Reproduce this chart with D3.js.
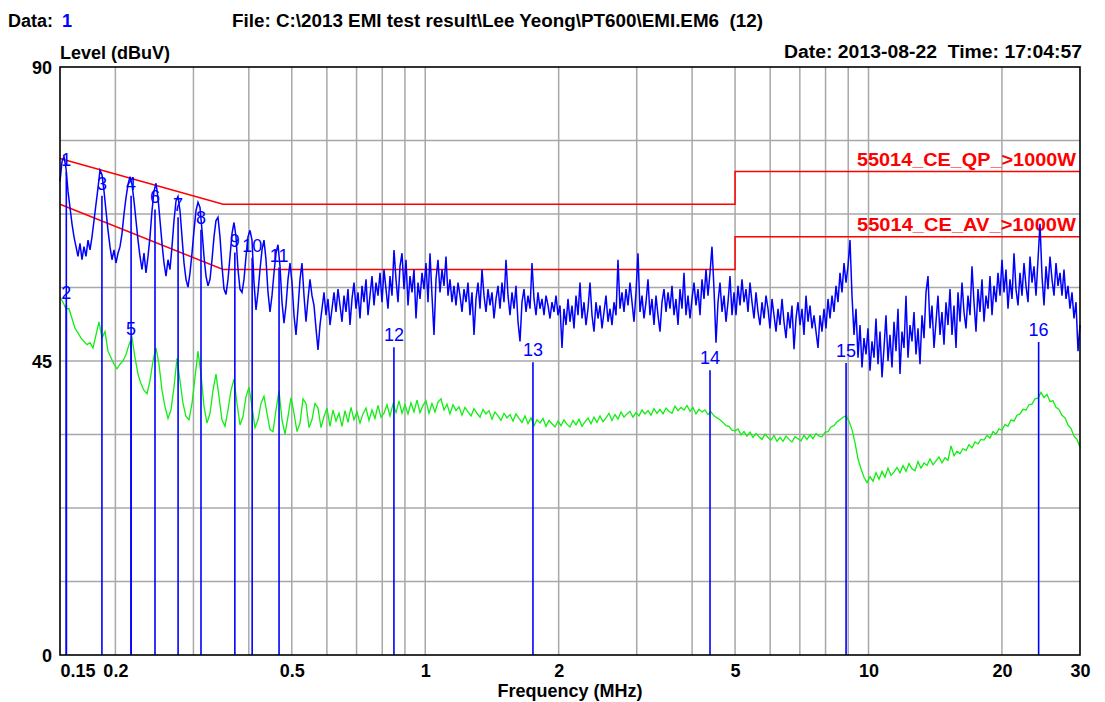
<!DOCTYPE html>
<html>
<head>
<meta charset="utf-8">
<script src="https://cdn.jsdelivr.net/npm/d3@7"></script>
<style>
  body { margin: 0; background: #fff; }
  svg text { font-family: "Liberation Sans", Arial, sans-serif; white-space: pre; }
</style>
</head>
<body>
<svg id="emi-chart" width="1105" height="702"></svg>
<script>
// sweep range of the receiver (MHz)
const sweepStart = 0.15;
const sweepStop = 30;

// QP (peak) trace, dBuV, one value per sweep step
const qpTrace = [
  72.5, 75.5, 76.3, 74.5, 71.0, 68.5, 66.0, 64.0, 62.5, 61.0,
  63.0, 60.5, 62.5, 61.0, 63.5, 62.0, 64.0, 66.5, 69.0, 71.5,
  74.2, 73.5, 71.0, 68.0, 65.0, 62.5, 60.5, 62.0, 60.0, 61.5,
  62.5, 64.5, 67.5, 70.0, 72.0, 73.2, 72.0, 69.5, 66.5, 63.5,
  61.0, 59.0, 61.5, 58.5, 61.0, 64.0, 68.0, 71.0, 72.2, 70.0,
  66.5, 63.0, 60.0, 58.0, 60.5, 59.0, 62.5, 66.5, 69.5, 70.2,
  68.0, 64.0, 60.0, 57.5, 56.3, 58.5, 61.5, 65.0, 68.0, 69.3,
  68.5, 65.0, 61.0, 58.0, 56.5, 57.5, 60.5, 64.0, 66.5, 67.0,
  64.0, 59.5, 56.0, 55.2, 57.5, 61.0, 64.5, 66.2, 64.0, 59.0,
  56.0, 55.5, 57.5, 61.0, 64.0, 65.0, 63.5, 57.0, 52.8, 55.5,
  59.0, 62.0, 63.5, 60.5, 55.5, 52.5, 55.0, 58.5, 61.5, 62.8,
  59.5, 54.0, 50.8, 53.5, 57.5, 60.0, 57.0, 52.0, 49.0, 53.0,
  57.5, 60.0, 55.0, 51.0, 54.5, 57.5, 55.0, 53.5, 50.0, 46.7,
  50.5, 53.0, 55.5, 52.0, 54.5, 50.5, 53.0, 55.5, 52.5, 56.0,
  53.5,
  51.0, 55.0, 52.5, 56.0, 50.5, 54.5, 57.0, 53.0, 55.5, 51.5,
  56.5, 54.0, 57.5, 52.0, 55.0, 58.0, 53.5, 57.0, 55.0, 58.5,
  54.0, 59.0, 56.0, 53.0, 58.0, 55.0, 62.0, 57.5, 54.0, 59.5,
  61.5, 56.0, 60.5, 53.5, 58.0, 55.5, 59.0, 51.5, 57.0, 54.5,
  58.5, 56.0, 60.0, 54.0, 61.5, 55.0, 49.0, 57.5, 60.5, 55.5,
  59.0, 56.5, 61.0, 55.0, 57.5, 54.0, 56.5, 53.5, 57.0, 55.0,
  52.5, 56.0, 54.0, 57.0, 52.0, 55.5, 49.0, 54.5, 57.0, 53.0,
  59.0, 55.0, 52.5, 56.0, 53.5, 55.5, 51.5, 54.5, 56.5, 53.0,
  57.0, 54.0, 60.5, 55.0, 52.0, 55.5, 53.0, 56.5, 51.0, 48.0,
  54.0, 56.0, 52.5, 55.0, 53.0, 60.0, 54.5, 52.0, 55.5, 53.0,
  54.5, 52.0, 55.0, 53.5, 51.5, 54.0, 52.5, 55.0, 52.0, 53.5,
  47.0, 53.0, 50.5, 54.5, 51.0, 53.5, 50.0, 55.0, 52.0, 57.0,
  51.5, 54.0, 50.5, 53.0, 57.0, 52.0, 49.5, 54.0, 51.5, 53.5,
  50.0, 52.5, 55.0, 51.0, 53.0, 50.5, 54.0, 52.0, 60.5, 53.0,
  55.5, 52.5, 56.0, 53.5, 57.0, 54.0, 51.0, 55.5, 61.5, 52.5,
  55.0, 51.5, 54.0, 57.5, 52.0, 54.5, 50.5, 55.0, 52.0, 49.5,
  54.0, 56.0, 52.5, 55.5, 53.0, 56.5, 52.0, 54.5, 50.5, 56.0,
  53.0, 58.5, 52.0, 55.0, 51.5, 54.5, 57.0, 53.5, 56.0, 52.0,
  57.5, 54.5, 59.0, 55.0, 58.5, 62.5, 56.0, 47.8, 54.0, 57.0,
  52.5, 55.0, 51.0, 54.0, 58.0, 52.0, 55.5, 52.0, 56.5, 53.5,
  57.5, 54.0, 56.0, 52.5, 57.0, 54.0, 51.5, 55.5, 52.5, 50.5,
  54.0, 51.5, 55.0, 53.0, 50.0, 54.5, 52.0, 49.5, 53.0, 50.5,
  54.5, 51.0, 48.5, 52.5, 50.0, 53.5, 46.8, 51.5, 54.0, 50.5,
  53.0, 49.0, 55.0, 51.0, 53.5, 50.0, 52.0, 49.5, 47.0, 52.0,
  49.5, 53.0, 50.0, 54.5, 51.5, 55.0, 52.5, 56.5, 54.0, 58.5,
  55.5, 60.0, 57.0, 59.5, 63.5, 55.0, 49.0, 53.0, 45.5, 50.5,
  44.0, 48.5, 46.0, 50.0, 43.5, 48.0, 45.5, 51.5, 44.5, 49.5,
  42.5, 47.0, 52.0, 45.0, 49.0, 44.0, 51.0, 46.5, 53.0, 43.0,
  49.5, 47.0, 55.0, 45.5, 50.5, 48.0, 52.5, 46.0, 50.0, 44.5,
  52.0, 48.5, 55.5, 58.0, 50.0, 53.5, 47.0, 51.0, 55.0, 49.0,
  52.5, 47.5, 54.0, 50.5, 56.0, 49.0, 53.5, 47.0, 55.5, 51.0,
  57.0, 52.5, 50.0, 55.0, 52.0, 59.5, 54.0, 49.5, 56.0, 52.5,
  57.5, 51.0, 55.0, 53.0, 58.0, 52.0, 56.5, 54.0, 58.5, 55.0,
  60.5, 55.5, 59.0, 53.0, 57.5, 54.5, 61.5, 56.0, 53.5, 58.5,
  55.0, 60.0, 56.5, 54.0, 61.0, 57.0, 59.5, 55.0, 60.5, 66.0,
  58.0, 53.5, 59.5, 56.0, 61.0, 57.5, 55.0, 60.0, 56.5, 58.5,
  55.0, 59.0, 54.5, 56.5, 53.0, 55.5, 51.5, 54.0, 46.5, 50.5
];

// AV trace, dBuV
const avTrace = [
  54.8, 54.0, 53.0, 53.0, 51.5, 50.0, 49.3, 48.5, 48.0, 47.5,
  47.8, 47.0, 49.0, 51.0, 48.5, 49.5, 46.5, 45.5, 44.5, 43.8,
  44.5, 45.0, 46.0, 47.5, 48.6, 45.5, 43.0, 41.5, 40.5, 40.0,
  42.0, 45.0, 47.0, 44.5, 40.5, 38.0, 36.2, 37.5, 41.0, 45.4,
  42.0, 38.5, 36.5, 36.0, 38.5, 42.5, 46.5, 43.0, 38.0, 35.5,
  37.0, 40.5, 43.0, 39.5, 36.0, 35.0, 37.5, 40.5, 42.2, 38.5,
  35.2, 36.5, 39.5, 41.0, 38.0, 34.8, 36.0, 38.5, 39.6, 37.0,
  34.5, 34.2, 37.5, 40.4, 36.0, 33.8, 36.5, 39.4, 37.0, 34.2,
  35.5, 39.2, 38.5, 34.8, 36.0, 38.5, 37.8, 34.8, 36.5, 37.8,
  35.0, 37.5, 35.8, 37.0, 35.0, 37.4, 35.6, 37.9, 36.0, 37.2,
  35.5, 36.9, 37.8, 35.9, 37.5, 36.2, 38.2, 36.4, 37.0, 38.3,
  36.6, 38.4, 37.1, 38.9, 37.0, 38.3, 36.9, 38.6, 37.2, 39.0,
  37.1, 38.2, 38.9, 37.0, 38.5, 37.2, 38.7, 39.2, 37.5, 38.4,
  36.9, 38.3, 37.4, 38.0, 36.7, 37.9, 37.2, 36.6, 37.7, 37.0,
  36.4, 37.6, 36.9, 37.4, 36.1, 37.2, 36.6, 35.9, 37.0, 36.3,
  36.8, 35.8, 36.9, 36.2, 35.6, 36.6, 35.4, 36.3, 35.1, 36.0,
  35.5, 36.2, 35.0, 35.9, 35.4, 34.9, 35.8, 35.1, 36.0, 35.3,
  34.9, 35.9, 35.2, 36.1, 35.0, 35.7, 36.3, 35.4, 36.4, 35.6,
  36.6, 35.7, 36.3, 37.0, 35.9, 36.8, 36.1, 37.2, 36.4, 36.9,
  37.3, 36.4, 37.1, 36.6, 37.5, 36.9, 37.4, 36.7, 37.7, 37.0,
  37.6, 36.9, 37.8, 37.3, 37.0, 38.1, 37.4, 37.9, 37.5, 38.2,
  37.3, 37.9, 36.9, 37.6, 37.2, 37.5, 36.8, 37.2, 36.6, 36.3,
  36.0, 35.6, 35.1, 35.0, 34.4, 34.3, 34.6, 33.7, 34.2, 33.5,
  34.1, 33.3, 33.9, 33.4, 33.0, 33.8, 33.3, 32.9, 33.6, 32.7,
  33.3, 32.7, 33.5, 33.0, 32.6, 33.4, 33.1, 32.8, 33.6, 33.0,
  33.7, 33.1, 33.9, 33.5, 33.4, 34.1, 34.2, 34.9, 35.1, 35.7,
  36.0, 36.4, 36.6, 35.8, 34.5, 32.5, 30.0, 28.5, 27.2, 26.4,
  27.3, 26.6, 27.9, 26.9, 28.1, 27.2, 28.6, 27.5, 28.0, 28.7,
  27.9, 29.0, 28.1, 29.3, 28.5, 28.2, 29.6, 28.6, 29.4, 29.0,
  30.0, 29.1, 29.7, 30.3, 29.4, 30.2, 29.8, 32.0, 30.5, 31.2,
  30.8, 31.6, 31.3, 32.2, 31.7, 32.6, 32.3, 33.0, 32.9, 33.6,
  33.2, 34.2, 33.8, 34.6, 34.4, 35.3, 35.0, 36.0, 35.8, 36.7,
  36.9, 37.6, 37.5, 38.3, 38.4, 39.2, 39.3, 40.2, 39.4, 39.9,
  38.8, 38.9, 37.9, 37.6, 36.7, 36.3, 35.2, 34.7, 33.5, 33.0,
  31.8
];

// EN 55014 limits (>1000W), [MHz, dBuV]
const qpLimit = [[0.15, 76], [0.35, 69], [5, 69], [5, 74], [30, 74]];
const avLimit = [[0.15, 69], [0.35, 59], [5, 59], [5, 64], [30, 64]];
const limitNames = ["55014_CE_QP_>1000W", "55014_CE_AV_>1000W"];

// markers
const markerIds = [1, 2, 3, 4, 5, 6, 7, 8, 9, 10, 11, 12, 13, 14, 15, 16];
const markerFreqs = [0.155, 0.155, 0.1865, 0.217, 0.217, 0.2457, 0.277, 0.312,
  0.372, 0.407, 0.468, 0.85, 1.75, 4.39, 8.9, 24.2];
const markerLevels = [73.9, 53.6, 70.3, 70.3, 48.1, 68.2, 67.0, 65.1,
  61.6, 60.8, 59.3, 47.1, 44.8, 43.6, 44.7, 47.9];

// axes
const gridFreqs = [0.2, 0.3, 0.4, 0.5, 0.6, 0.7, 0.8, 0.9, 1, 2, 3, 4, 5, 6, 7, 8, 9, 10, 20];
const freqTicks = [0.15, 0.2, 0.5, 1, 2, 5, 10, 20, 30];
const freqTickLabels = ["0.15", "0.2", "0.5", "1", "2", "5", "10", "20", "30"];
const levelGrid = [11.25, 22.5, 33.75, 45, 56.25, 67.5, 78.75];
const levelTicks = [0, 45, 90];

const svg = d3.select("#emi-chart");
const margin = {top: 67, right: 25, bottom: 47, left: 60};
const W = 1105 - margin.left - margin.right;
const H = 702 - margin.top - margin.bottom;
const g = svg.append("g").attr("transform", `translate(${margin.left},${margin.top})`);

const x = d3.scaleLog().domain([sweepStart, sweepStop]).range([0, W]);
const y = d3.scaleLinear().domain([0, 90]).range([H, 0]);

// sweep step frequency for index i of a trace with n points
const stepFreq = (i, n) => sweepStart * Math.pow(sweepStop / sweepStart, i / (n - 1));

// grid
g.append("g").selectAll("line").data(gridFreqs).join("line")
  .attr("x1", d => x(d)).attr("x2", d => x(d))
  .attr("y1", 0).attr("y2", H)
  .attr("stroke", "#a8a8a8").attr("stroke-width", 1.5);
g.append("g").selectAll("line").data(levelGrid).join("line")
  .attr("x1", 0).attr("x2", W)
  .attr("y1", d => y(d)).attr("y2", d => y(d))
  .attr("stroke", "#a8a8a8").attr("stroke-width", 1.5);

// limit lines + names
const limLine = d3.line().x(d => x(d[0])).y(d => y(d[1]));
[qpLimit, avLimit].forEach((lim, k) => {
  g.append("path").datum(lim).attr("d", limLine)
    .attr("fill", "none").attr("stroke", "#ff0000").attr("stroke-width", 1.5);
  g.append("text")
    .attr("x", W - 4).attr("y", y(lim[lim.length - 1][1]) - 6)
    .attr("text-anchor", "end")
    .attr("font-size", 18).attr("font-weight", "bold").attr("fill", "#ff0000")
    .attr("textLength", 219).attr("lengthAdjust", "spacingAndGlyphs")
    .text(limitNames[k]);
});

// traces
const traceLine = n => d3.line().x((d, i) => x(stepFreq(i, n))).y(d => y(d));
g.append("path").datum(avTrace).attr("d", traceLine(avTrace.length))
  .attr("fill", "none").attr("stroke", "#11ee11").attr("stroke-width", 1.3);
g.append("path").datum(qpTrace).attr("d", traceLine(qpTrace.length))
  .attr("fill", "none").attr("stroke", "#0000ff").attr("stroke-width", 1.5);

// markers
const markers = markerIds.map((id, i) => ({id: id, f: markerFreqs[i], v: markerLevels[i]}));
g.append("g").selectAll("line").data(markers).join("line")
  .attr("x1", d => x(d.f)).attr("x2", d => x(d.f))
  .attr("y1", d => y(d.v)).attr("y2", H)
  .attr("stroke", "#0000ff").attr("stroke-width", 1.6);
g.append("g").selectAll("text").data(markers).join("text")
  .attr("x", d => x(d.f)).attr("y", d => y(d.v) - 6)
  .attr("text-anchor", "middle")
  .attr("font-size", 18).attr("fill", "#0000ff")
  .text(d => d.id);

// frame
g.append("rect").attr("width", W).attr("height", H)
  .attr("fill", "none").attr("stroke", "#000").attr("stroke-width", 1.6);

// axes
const xAxis = g.append("g").attr("transform", `translate(0,${H})`)
  .call(d3.axisBottom(x).tickValues(freqTicks).tickSize(0).tickPadding(9)
    .tickFormat((d, i) => freqTickLabels[i]));
const yAxis = g.append("g")
  .call(d3.axisLeft(y).tickValues(levelTicks).tickSize(0).tickPadding(8));
[xAxis, yAxis].forEach(a => {
  a.select(".domain").remove();
  a.selectAll("text").attr("font-size", 18).attr("font-weight", "bold")
    .attr("font-family", "'Liberation Sans', Arial, sans-serif").attr("fill", "#000");
});
xAxis.selectAll("text").filter((d, i) => i === 0).attr("text-anchor", "start");
yAxis.selectAll("text").attr("dy", "0.38em");

// titles
const bold = (sel) => sel.attr("font-size", 18).attr("font-weight", "bold").attr("fill", "#000");
bold(svg.append("text").attr("x", 8).attr("y", 27).text("Data:"));
bold(svg.append("text").attr("x", 62).attr("y", 27).text("1")).attr("fill", "#0000ff");
bold(svg.append("text").attr("x", 232).attr("y", 27)
  .attr("textLength", 531).attr("lengthAdjust", "spacingAndGlyphs")
  .text("File: C:\\2013 EMI test result\\Lee Yeong\\PT600\\EMI.EM6  (12)"));
bold(svg.append("text").attr("x", 60).attr("y", 59).text("Level (dBuV)"));
bold(svg.append("text").attr("x", 1082).attr("y", 58).attr("text-anchor", "end")
  .attr("textLength", 298).attr("lengthAdjust", "spacingAndGlyphs")
  .text("Date: 2013-08-22  Time: 17:04:57"));
bold(svg.append("text").attr("x", margin.left + W / 2).attr("y", 697)
  .attr("text-anchor", "middle").text("Frequency (MHz)"));
</script>
</body>
</html>
